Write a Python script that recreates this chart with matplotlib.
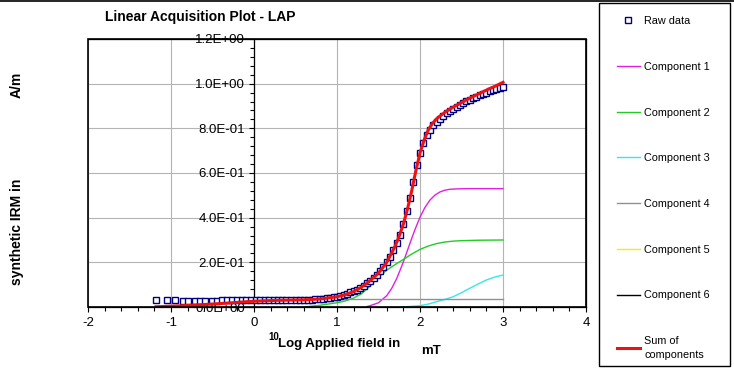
import numpy as np
import matplotlib
matplotlib.use("Agg")
import matplotlib.pyplot as plt
from matplotlib.patches import Rectangle
from matplotlib.lines import Line2D
from matplotlib.ticker import MultipleLocator, FuncFormatter

plt.rcParams['font.family'] = ['Liberation Sans', 'DejaVu Sans']

# raw data (10log field in mT, IRM in A/m)
raw_x = [-1.18, -1.05, -0.95, -0.86, -0.79, -0.71, -0.65, -0.59, -0.51, -0.45,
         -0.39, -0.32, -0.27, -0.21, -0.15, -0.10, -0.04, 0.02, 0.07, 0.13,
         0.18, 0.24, 0.29, 0.34, 0.39, 0.45, 0.50, 0.55, 0.60, 0.65,
         0.70, 0.74, 0.79, 0.83, 0.88, 0.92, 0.96, 1.00, 1.04, 1.08,
         1.12, 1.16, 1.20, 1.24, 1.28, 1.32, 1.36, 1.40, 1.44, 1.48,
         1.52, 1.56, 1.60, 1.64, 1.68, 1.72, 1.76, 1.80, 1.84, 1.88,
         1.92, 1.96, 2.00, 2.04, 2.08, 2.12, 2.16, 2.20, 2.24, 2.28,
         2.32, 2.36, 2.40, 2.44, 2.48, 2.52, 2.56, 2.60, 2.64, 2.68,
         2.72, 2.76, 2.80, 2.84, 2.88, 2.92, 2.96, 3.00]
raw_y = [0.030, 0.030, 0.030, 0.029, 0.028, 0.028, 0.028, 0.028, 0.029, 0.029,
         0.030, 0.030, 0.030, 0.030, 0.030, 0.030, 0.030, 0.030, 0.030, 0.030,
         0.030, 0.030, 0.030, 0.030, 0.030, 0.030, 0.030, 0.031, 0.031, 0.032,
         0.033, 0.034, 0.035, 0.037, 0.039, 0.041, 0.044, 0.047, 0.051, 0.055,
         0.060, 0.065, 0.071, 0.078, 0.087, 0.096, 0.106, 0.117, 0.130, 0.145,
         0.162, 0.180, 0.201, 0.225, 0.254, 0.287, 0.322, 0.370, 0.430, 0.490,
         0.560, 0.635, 0.690, 0.735, 0.768, 0.793, 0.813, 0.830, 0.844, 0.857,
         0.868, 0.878, 0.888, 0.897, 0.905, 0.913, 0.921, 0.928, 0.935, 0.942,
         0.948, 0.954, 0.960, 0.965, 0.970, 0.975, 0.979, 0.983]

c1_x = [1.36, 1.40, 1.50, 1.60, 1.66, 1.72, 1.78, 1.82, 1.86, 1.90, 1.94, 2.00,
        2.06, 2.12, 2.18, 2.24, 2.30, 2.36, 2.45, 2.60, 2.80, 3.00]
c1_y = [0.002, 0.006, 0.019, 0.051, 0.084, 0.128, 0.183, 0.223, 0.265, 0.307,
        0.347, 0.402, 0.446, 0.479, 0.501, 0.515, 0.523, 0.527, 0.529, 0.530,
        0.530, 0.530]

c2_x = [0.60, 0.80, 1.00, 1.10, 1.20, 1.30, 1.40, 1.50, 1.60, 1.70, 1.80, 1.90,
        2.00, 2.10, 2.20, 2.30, 2.40, 2.50, 2.70, 3.00]
c2_y = [0.000, 0.008, 0.019, 0.027, 0.040, 0.060, 0.095, 0.135, 0.165, 0.190,
        0.213, 0.237, 0.258, 0.273, 0.284, 0.291, 0.295, 0.297, 0.299, 0.300]

c3_x = [1.76, 1.90, 2.00, 2.10, 2.20, 2.30, 2.40, 2.50, 2.60, 2.70, 2.80, 2.90, 3.00]
c3_y = [0.000, 0.003, 0.006, 0.013, 0.024, 0.034, 0.046, 0.064, 0.084, 0.103,
        0.121, 0.134, 0.143]

c4_x = [0.00, 3.00]
c4_y = [0.034, 0.034]

sum_x = [-1.18, -0.9, -0.6, -0.3, 0.0, 0.3, 0.6, 0.8, 1.0, 1.1, 1.2, 1.3, 1.4,
         1.5, 1.6, 1.7, 1.75, 1.8, 1.85, 1.9, 1.95, 2.0, 2.05, 2.1, 2.15, 2.2,
         2.3, 2.4, 2.5, 2.6, 2.7, 2.8, 2.9, 3.0]
sum_y = [0.001, 0.005, 0.011, 0.018, 0.026, 0.030, 0.032, 0.036, 0.046, 0.055,
         0.069, 0.090, 0.118, 0.152, 0.200, 0.272, 0.318, 0.372, 0.440, 0.520,
         0.610, 0.690, 0.748, 0.793, 0.822, 0.843, 0.872, 0.895, 0.915, 0.935,
         0.953, 0.971, 0.988, 1.006]

W, H = 734, 369
fig = plt.figure(figsize=(W/100, H/100), dpi=100)
ax = fig.add_axes([88/W, 1-307/H, (586-88)/W, (307-39)/H])

ax.set_xlim(-2, 4)
ax.set_ylim(0, 1.2)
ax.set_axisbelow(True)

ax.xaxis.set_major_locator(MultipleLocator(1))
ax.xaxis.set_minor_locator(MultipleLocator(0.2))
ax.yaxis.set_major_locator(MultipleLocator(0.2))
ax.yaxis.set_minor_locator(MultipleLocator(0.04))
ax.yaxis.set_major_formatter(FuncFormatter(lambda v, p: "%.1E" % v))
ax.xaxis.set_major_formatter(FuncFormatter(lambda v, p: "%d" % round(v)))
ax.grid(True, which='major', color='#b4b4b4', lw=0.8)

ax.spines['left'].set_position(('data', 0))
for s in ax.spines.values():
    s.set_linewidth(0.9)
ax.add_patch(Rectangle((0, 0), 1, 1, transform=ax.transAxes, fill=False,
                       edgecolor='black', lw=1.2, clip_on=False, zorder=5))

ax.tick_params(axis='both', which='both', direction='out', labelsize=9.5,
               width=0.8, colors='black')
ax.tick_params(axis='both', which='major', length=3.5)
ax.tick_params(axis='both', which='minor', length=3)
ax.tick_params(axis='x', pad=4)
ax.tick_params(axis='y', pad=3)

lines = []
lines.append(ax.plot(raw_x, raw_y, 's', ms=3.8, mfc='white', mec='#000080',
                     mew=1.0, zorder=3, label='Raw data')[0])
lines.append(ax.plot(c1_x, c1_y, color='#e020e0', lw=1.0, label='Component 1')[0])
lines.append(ax.plot(c2_x, c2_y, color='#22cc22', lw=1.0, label='Component 2')[0])
lines.append(ax.plot(c3_x, c3_y, color='#33e8e8', lw=1.0, label='Component 3')[0])
lines.append(ax.plot(c4_x, c4_y, color='#909090', lw=1.0, label='Component 4')[0])
lines.append(ax.plot([], [], color='#f0f000', lw=1.0, label='Component 5')[0])
lines.append(ax.plot([], [], color='black', lw=1.0, label='Component 6')[0])
lines.append(ax.plot(sum_x, sum_y, color='#ee1111', lw=2.2, zorder=4,
                     label='Sum of\ncomponents')[0])

# titles and axis labels
fig.text(105/W, 1-17/H, 'Linear Acquisition Plot - LAP', fontsize=10,
         fontweight='bold', va='center', ha='left')
fig.text(17/W, 1-85/H, 'A/m', fontsize=10, fontweight='bold', rotation=90,
         va='center', ha='center')
fig.text(17/W, 1-232/H, 'synthetic IRM in', fontsize=10, fontweight='bold',
         rotation=90, va='center', ha='center')
fig.text(268/W, 1-337/H, '10', fontsize=7, fontweight='bold',
         va='center', ha='left')
fig.text(278/W, 1-344/H, 'Log Applied field in', fontsize=9.5,
         fontweight='bold', va='center', ha='left')
fig.text(421/W, 1-351/H, 'mT', fontsize=9.5, fontweight='bold',
         va='center', ha='left')

# legend box on the right
fig.patches.append(Rectangle((599/W, 1-366/H), (730-599)/W, (366-3)/H,
                             transform=fig.transFigure, fill=False,
                             edgecolor='black', lw=1.0))
leg = fig.legend(handles=lines, loc='upper left', bbox_to_anchor=(617/W, 1-16/H),
                 frameon=False, fontsize=7.8, numpoints=1, handlelength=2.1,
                 handletextpad=0.4, labelspacing=3.3, borderpad=0,
                 borderaxespad=0)
leg.get_texts()[-1].set_linespacing(1.45)

fig.add_artist(Line2D([0, 1], [1-0.5/H, 1-0.5/H], transform=fig.transFigure,
                      color='black', lw=1.2))

fig.savefig('out.png', dpi=100)
